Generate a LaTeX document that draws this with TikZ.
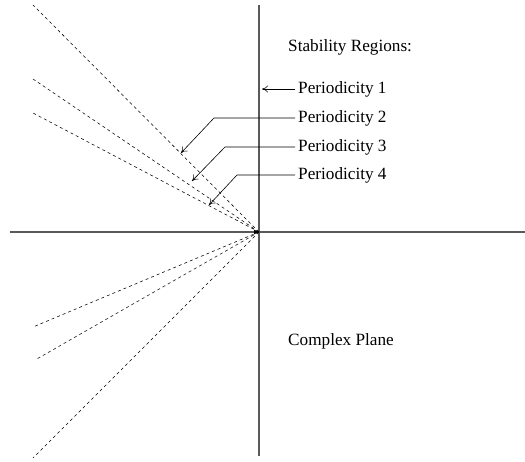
\documentclass[tikz,border=0pt]{standalone}
\usepackage{fontspec}
\setmainfont{Liberation Serif}
\usetikzlibrary{arrows.meta}
\begin{document}
\begin{tikzpicture}[x=1pt,y=-1pt,
  axis/.style={draw=black!65,line width=1.1pt},
  ray/.style={draw=black,line width=0.55pt,dash pattern=on 3pt off 3pt},
  lbl/.style={font=\fontsize{17.2}{20}\selectfont,anchor=west,inner sep=0pt},
  pointer/.style={draw=black,line width=0.6pt,-{To[length=6pt,width=7pt]}}]
\useasboundingbox (0,0) rectangle (525,462);
\coordinate (O) at (259,232);
\coordinate (xl) at (10,232);
\coordinate (xr) at (525,232);
\coordinate (yt) at (259,5);
\coordinate (yb) at (259,456);
\draw[axis] (xl) -- (xr);
\draw[axis] (yt) -- (yb);
% dashed rays
\coordinate (u1) at (33,5);
\coordinate (u2) at (33,79);
\coordinate (u3) at (33,113);
\coordinate (d1) at (33,327);
\coordinate (d2) at (35,360);
\coordinate (d3) at (33,458);
\foreach \p in {u1,u2,u3,d1,d2,d3} \draw[ray] (O) -- (\p);
\draw[-{Latex[length=5pt,width=5pt]},line width=0.6pt] ([xshift=-5pt]O) -- (O);
% labels
\node[lbl] (title) at (288,47) {Stability Regions:};
\node[lbl] (p1) at (298,89) {Periodicity 1};
\node[lbl] (p2) at (298,118) {Periodicity 2};
\node[lbl] (p3) at (298,147) {Periodicity 3};
\node[lbl] (p4) at (298,175) {Periodicity 4};
\node[lbl] (cp) at (288,341) {Complex Plane};
% pointers
\coordinate (t1) at (262,89);
\coordinate (c2) at (214,118);
\coordinate (t2) at (181,153);
\coordinate (c3) at (225,147);
\coordinate (t3) at (192,181);
\coordinate (c4) at (237,175);
\coordinate (t4) at (209,205);
\draw[pointer] ([xshift=-3pt]p1.west) -- (t1);
\draw[pointer] ([xshift=-3pt]p2.west) -- (c2) -- (t2);
\draw[pointer] ([xshift=-3pt]p3.west) -- (c3) -- (t3);
\draw[pointer] ([xshift=-3pt]p4.west) -- (c4) -- (t4);
\end{tikzpicture}
\end{document}
